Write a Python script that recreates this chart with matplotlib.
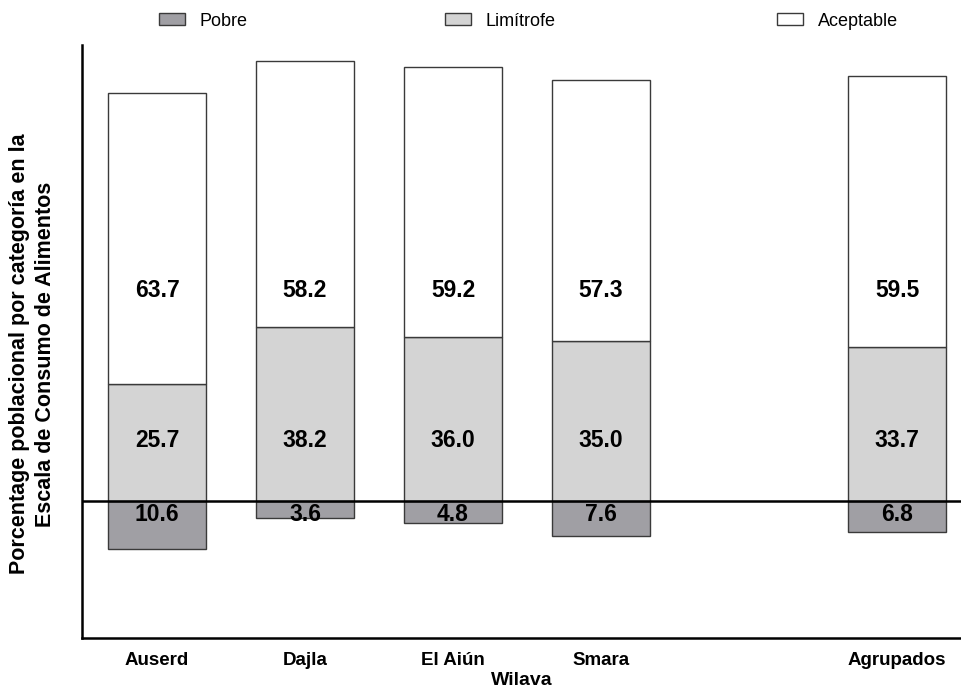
import matplotlib.pyplot as plt
from matplotlib.patches import Patch

plt.rcParams["font.family"] = ["Liberation Sans", "DejaVu Sans"]

# ------------------------------------
# DATA
# ------------------------------------
wilayas = ["Auserd", "Dajla", "El Aiún", "Smara", "Agrupados"]
positions = [0, 1, 2, 3, 5]
pobre = [10.6, 3.6, 4.8, 7.6, 6.8]
limitrofe = [25.7, 38.2, 36.0, 35.0, 33.7]
aceptable = [63.7, 58.2, 59.2, 57.3, 59.5]

C_POBRE = "#a09fa4"
C_LIMIT = "#d4d4d4"
C_ACEPT = "#ffffff"
EDGE = "#3a3a3a"

# ------------------------------------
# FIGURE
# ------------------------------------
fig = plt.figure(figsize=(9.62, 6.9), dpi=100)
ax = fig.add_axes([0.0852, 0.0754, 0.9148, 0.8594])

w = 0.66
ax.bar(positions, [-p for p in pobre], w, color=C_POBRE, edgecolor=EDGE, linewidth=1)
ax.bar(positions, limitrofe, w, color=C_LIMIT, edgecolor=EDGE, linewidth=1)
ax.bar(positions, aceptable, w, bottom=limitrofe, color=C_ACEPT, edgecolor=EDGE, linewidth=1)

ax.axhline(0, color="black", linewidth=1.8, zorder=5)

# value labels (fixed heights, as in the original)
lab = dict(fontsize=16.5, fontweight="bold", ha="center", zorder=6)
for x, p, l, a in zip(positions, pobre, limitrofe, aceptable):
    ax.text(x, -0.4, f"{p:.1f}", va="top", **lab)
    ax.text(x, 13.3, f"{l:.1f}", va="center", **lab)
    ax.text(x, 46.1, f"{a:.1f}", va="center", **lab)

ax.set_xlim(-0.507, 5.439)
ax.set_ylim(-30, 100)
ax.set_xticks(positions)
ax.set_xticklabels(wilayas, fontsize=13.5, fontweight="bold")
ax.set_yticks([])
ax.tick_params(axis="x", length=0, pad=10)

for s in ["top", "right"]:
    ax.spines[s].set_visible(False)
for s in ["left", "bottom"]:
    ax.spines[s].set_linewidth(1.8)

ax.set_xlabel("Wilava", fontsize=14, fontweight="bold", labelpad=2)
ax.set_ylabel("Porcentage poblacional por categoría en la\nEscala de Consumo de Alimentos",
              fontsize=15.5, fontweight="bold", linespacing=1.35)
ax.yaxis.set_label_coords(-0.029, 0.479)

# legend: three separate entries spread across the top
items = [("Pobre", C_POBRE, 159), ("Limítrofe", C_LIMIT, 445), ("Aceptable", C_ACEPT, 777)]
for name, col, xpx in items:
    fig.legend(handles=[Patch(facecolor=col, edgecolor=EDGE, linewidth=1, label=name)],
               loc="center left", bbox_to_anchor=(xpx / 962, 1 - 21 / 690), frameon=False,
               fontsize=13, handlelength=1.45, handleheight=0.6, handletextpad=0.8,
               borderpad=0, borderaxespad=0)

fig.savefig("out.png", dpi=100)
